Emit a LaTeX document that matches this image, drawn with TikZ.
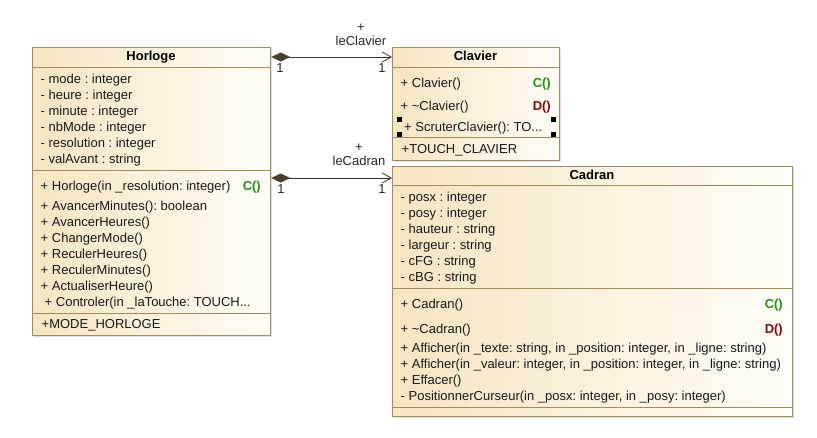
\documentclass[tikz,border=0pt]{standalone}
\usepackage{fontspec}
\setmainfont{Liberation Sans}
\usetikzlibrary{arrows.meta,shadows}
\definecolor{umlborder}{HTML}{A08C5E}
\definecolor{umlleft}{HTML}{F7E5C2}
\definecolor{umlright}{HTML}{FFFDF8}
\definecolor{umlline}{HTML}{3B3428}
\definecolor{umldiamond}{HTML}{4A3F2D}
\definecolor{ctorgreen}{HTML}{1E961E}
\definecolor{dtorred}{HTML}{850A0A}
\newcommand{\umlfont}{\fontsize{13}{14}\selectfont\frenchspacing}
\tikzstyle{classbox} = [rectangle, draw=umlborder, line width=1.2pt, left color=umlleft, right color=umlright, anchor=north west, inner sep=0pt, drop shadow={shadow xshift=1.5pt, shadow yshift=-1.5pt, fill=black!25, opacity=0.5}]
\tikzstyle{classname} = [inner sep=0pt, font=\umlfont\bfseries, text height=8pt, text depth=1pt]
\tikzstyle{member} = [anchor=west, inner sep=0pt, text=black!90, text height=8pt, text depth=1pt]
\tikzstyle{sep} = [draw=umlborder, line width=1pt]
\tikzstyle{ctor} = [anchor=east, inner sep=0pt, font=\umlfont\bfseries, text=ctorgreen, text height=8pt, text depth=1pt]
\tikzstyle{dtor} = [anchor=east, inner sep=0pt, font=\umlfont\bfseries, text=dtorred, text height=8pt, text depth=1pt]
\tikzstyle{handle} = [rectangle, fill=black, minimum size=5pt, inner sep=0pt]
\tikzstyle{mult} = [inner sep=0pt, text=black!85]
\tikzstyle{role} = [inner sep=0pt, align=center, text=black!85]
\tikzstyle{assoc} = [draw=umlline, line width=0.9pt, {Diamond[length=19pt,width=9pt,fill=umldiamond,color=umldiamond]}-{Straight Barb[length=9pt,width=10pt,line width=0.8pt]}]

\begin{document}
\begin{tikzpicture}[x=1pt, y=-1pt, font=\umlfont]
\useasboundingbox (0,0) rectangle (817,437);

% Horloge
\node [classbox, minimum width=238pt, minimum height=288pt] (Horloge) at (32,47) {};
\node [classname] (HorlogeT) at (151,57) {Horloge};
\draw [sep] (Horloge.west |- 0,67) -- (Horloge.east |- 0,67);
\foreach \txt [count=\i] in {- mode : integer, - heure : integer, - minute : integer, - nbMode : integer, - resolution : integer, - valAvant : string}
  \node [member] (hattr\i) at (40.5,64+16*\i) {\txt};
\draw [sep] (Horloge.west |- 0,170) -- (Horloge.east |- 0,170);
\node [member] (hop0) at (40.5,186.5) {+ Horloge(in \_resolution: integer)};
\node [ctor] (hctor) at (261,186.5) {C()};
\foreach \txt [count=\i] in {+ AvancerMinutes(): boolean, + AvancerHeures(), + ChangerMode(), + ReculerHeures(), + ReculerMinutes(), + ActualiserHeure()}
  \node [member] (hop\i) at (40.5,190.5+16*\i) {\txt};
\node [member] (hop7) at (44.5,302.5) {+ Controler(in \_laTouche: TOUCH...};
\draw [sep] (Horloge.west |- 0,313) -- (Horloge.east |- 0,313);
\node [member] (hconst) at (41.5,324.5) {+MODE\_HORLOGE};

% Clavier
\node [classbox, minimum width=167pt, minimum height=113pt] (Clavier) at (392,47) {};
\node [classname] (ClavierT) at (475.5,57) {Clavier};
\draw [sep] (Clavier.west |- 0,67) -- (Clavier.east |- 0,67);
\node [member] (kop1) at (400.5,84) {+ Clavier()};
\node [ctor] (kctor) at (551,84) {C()};
\node [member] (kop2) at (400.5,106.5) {+ \textasciitilde Clavier()};
\node [dtor] (kdtor) at (551,106.5) {D()};
\node [member] (kop3) at (404,127.5) {+ ScruterClavier(): TO...};
\draw [sep] (Clavier.west |- 0,137.5) -- (Clavier.east |- 0,137.5);
\node [member] (kconst) at (401.5,149.5) {+TOUCH\_CLAVIER};
\foreach \hx/\hy [count=\i] in {399/119, 399/134.5, 553/119, 553/134.5}
  \node [handle] (khandle\i) at (\hx,\hy) {};

% Cadran
\node [classbox, minimum width=400pt, minimum height=250pt] (Cadran) at (392,166) {};
\node [classname] (CadranT) at (592,175.5) {Cadran};
\draw [sep] (Cadran.west |- 0,185) -- (Cadran.east |- 0,185);
\foreach \txt [count=\i] in {- posx : integer, - posy : integer, - hauteur : string, - largeur : string, - cFG : string, - cBG : string}
  \node [member] (cattr\i) at (400.5,181.5+16*\i) {\txt};
\draw [sep] (Cadran.west |- 0,288) -- (Cadran.east |- 0,288);
\node [member] (cop1) at (400.5,305) {+ Cadran()};
\node [ctor] (cctor) at (783,305) {C()};
\node [member] (cop2) at (400.5,330) {+ \textasciitilde Cadran()};
\node [dtor] (cdtor) at (783,330) {D()};
\foreach \txt [count=\i] in {{+ Afficher(in \_texte: string, in \_position: integer, in \_ligne: string)}, {+ Afficher(in \_valeur: integer, in \_position: integer, in \_ligne: string)}, + Effacer(), {- PositionnerCurseur(in \_posx: integer, in \_posy: integer)}}
  \node [member] (cop\the\numexpr\i+2\relax) at (400.5,333+16*\i) {\txt};
\draw [sep] (Cadran.west |- 0,407.5) -- (Cadran.east |- 0,407.5);

% associations
\draw [assoc] (Horloge.east |- 0,57) -- (Clavier.west |- 0,57);
\node [role] (roleClavier) at (361,35) {+\\leClavier};
\node [mult] (multHK) at (280,68.5) {1};
\node [mult] (multKH) at (382,68.5) {1};

\draw [assoc] (Horloge.east |- 0,178) -- (Cadran.west |- 0,178);
\node [role] (roleCadran) at (359,154.5) {+\\leCadran};
\node [mult] (multHC) at (281,189) {1};
\node [mult] (multCH) at (382,189) {1};

\end{tikzpicture}
\end{document}
